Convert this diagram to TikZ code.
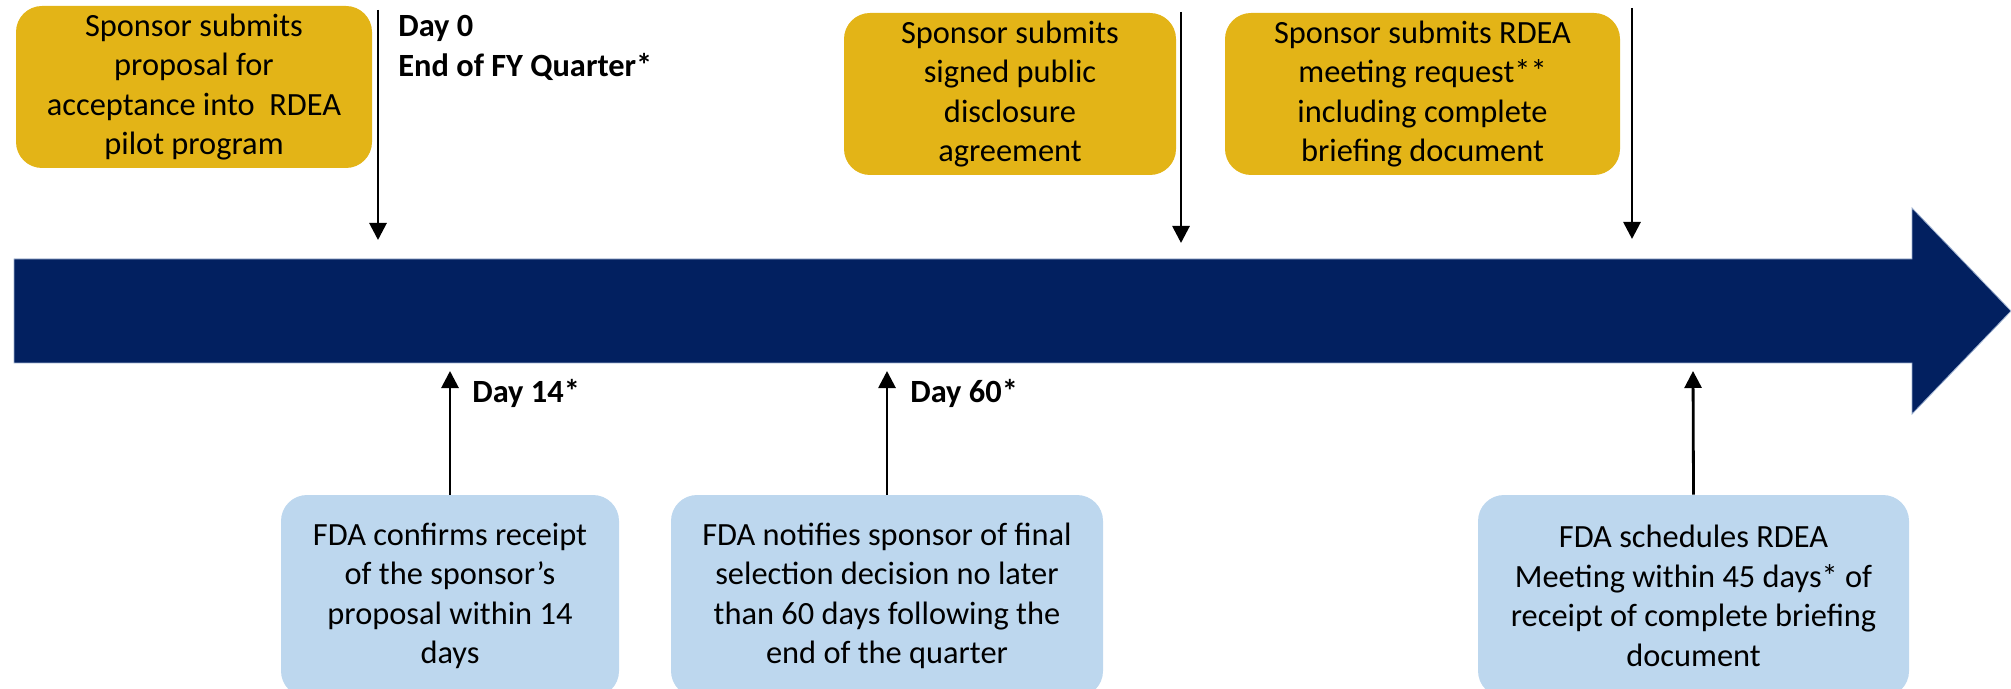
\documentclass[tikz,border=0pt]{standalone}
\usepackage{fontspec}
\setmainfont{Carlito}
\usetikzlibrary{arrows.meta}
\definecolor{gold}{HTML}{E3B417}
\definecolor{navy}{HTML}{022060}
\definecolor{paleblue}{HTML}{BDD7EE}
\definecolor{baredge}{HTML}{9DB0D0}
\begin{document}
\begin{tikzpicture}[x=0.5pt,y=-0.5pt,
  every node/.style={font=\fontsize{16.2}{19.75}\selectfont},
  box/.style={rounded corners=13pt, align=center, inner sep=0pt},
  sponsorbox/.style={box, fill=gold},
  fdabox/.style={box, fill=paleblue},
  milestone/.style={draw=black, line width=1.4pt, -{Triangle[length=8.5pt,width=8.5pt]}},
  daylabel/.style={anchor=west, align=left, inner sep=0pt,
    font=\fontsize{16.2}{19.75}\selectfont\bfseries}]
\useasboundingbox (0,0) rectangle (2011,689);

% timeline arrow
\path[fill=navy, draw=baredge, line width=0.4pt]
  (14,259) -- (1912,259) -- (1912,208) -- (2011,311) -- (1912,414)
  -- (1912,363) -- (14,363) -- cycle;

% sponsor steps (above the timeline)
\node[sponsorbox, minimum width=178pt, minimum height=81pt] (s1) at (194,87)
  {Sponsor submits\\proposal for\\acceptance into~ RDEA\\pilot program};
\node[sponsorbox, minimum width=166pt, minimum height=81pt] (s2) at (1010,94)
  {Sponsor submits\\signed public\\disclosure\\agreement};
\node[sponsorbox, minimum width=197.5pt, minimum height=81pt] (s3) at (1422.5,94)
  {Sponsor submits RDEA\\meeting request**\\including complete\\briefing document};

\coordinate (s1top) at (378,10);   \coordinate (s1tip) at (378,240);
\coordinate (s2top) at (1181,12);  \coordinate (s2tip) at (1181,243);
\coordinate (s3top) at (1632,8);   \coordinate (s3tip) at (1632,239);
\draw[milestone] (s1top) -- (s1tip);
\draw[milestone] (s2top) -- (s2tip);
\draw[milestone] (s3top) -- (s3tip);

\node[daylabel] (d0) at (398,48) {Day 0\\End of FY Quarter*};

% FDA steps (below the timeline)
\node[fdabox, minimum width=169pt, minimum height=101pt] (f1) at (450,596)
  {FDA confirms receipt\\of the sponsor’s\\proposal within 14\\days};
\node[fdabox, minimum width=216pt, minimum height=101pt] (f2) at (887,596)
  {FDA notifies sponsor of final\\selection decision no later\\than 60 days following the\\end of the quarter};
\node[fdabox, minimum width=215.5pt, minimum height=101pt] (f3) at (1693.5,596)
  {FDA schedules RDEA\\Meeting within 45 days* of\\receipt of complete briefing\\document};

\coordinate (f1tip) at (450,371);
\coordinate (f2tip) at (887,371);
\coordinate (f3tip) at (1693,371);
\draw[milestone] (f1.north) -- (f1tip);
\draw[milestone] (f2.north) -- (f2tip);
\draw[milestone] (f3.north) -- (f3tip);

\node[daylabel] (d14) at (472,393) {Day 14*};
\node[daylabel] (d60) at (910,393) {Day 60*};
\end{tikzpicture}
\end{document}
